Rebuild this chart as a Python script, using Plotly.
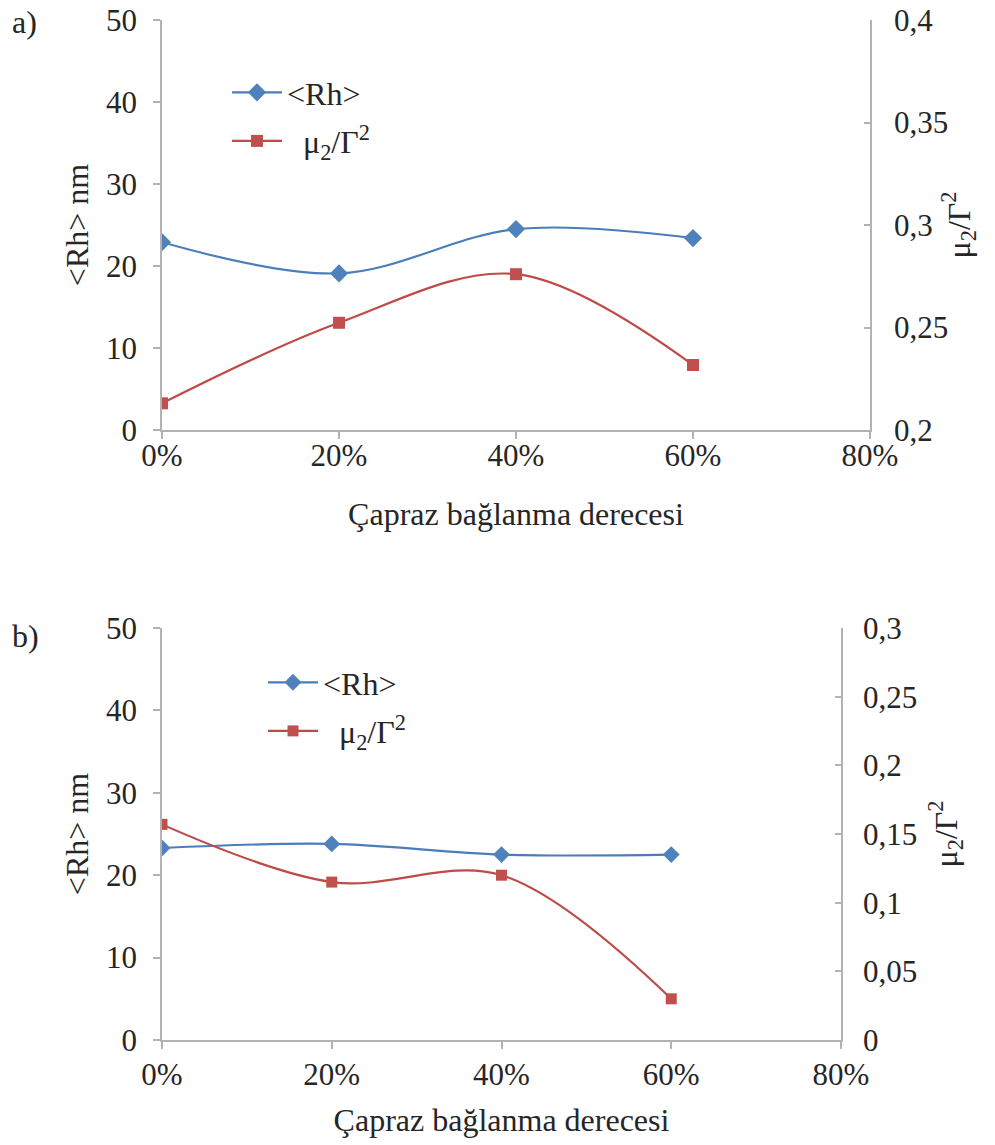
import plotly.graph_objects as go

# ---- data ----
x_vals = [0, 20, 40, 60]
x_tick_vals = [0, 20, 40, 60, 80]
x_tick_text = ["0%", "20%", "40%", "60%", "80%"]

rh_a = [22.9, 19.1, 24.5, 23.4]
mu_a = [0.213, 0.2523, 0.276, 0.2317]

rh_b = [23.3, 23.8, 22.5, 22.5]
mu_b = [0.157, 0.115, 0.12, 0.03]

rh_name = "&lt;Rh&gt;"
mu_name = "&#160;&#160;μ<sub>2</sub>/Γ<sup>2</sup>"
x_title = "Çapraz bağlanma derecesi"
y_title = "&lt;Rh&gt; nm"
y2_title = "μ<sub>2</sub>/Γ<sup>2</sup>"

BLUE_L, BLUE_M = "#4A7EBB", "#4F81BD"
RED_L, RED_M = "#BE4B48", "#C0504D"
AX = "#B3B3B3"
TXT = "#262626"
FONT = "Liberation Serif, Times New Roman, serif"
FS_T = 31   # tick labels
FS = 32     # titles, legend

W, H = 995, 1145
ML, MR, MT, MB = 162, 125, 20, 105
PW = W - ML - MR
PH = H - MT - MB


def px_x(px):
    return (px - ML) / PW


def px_y(py):
    return 1 - (py - MT) / PH


fig = go.Figure()

# panel a
fig.add_trace(go.Scatter(x=x_vals, y=rh_a, name=rh_name, mode="lines+markers",
                         line=dict(color=BLUE_L, width=2.2, shape="spline"),
                         marker=dict(symbol="diamond", size=14, color=BLUE_M),
                         xaxis="x", yaxis="y", legend="legend", legendgroup="a1"))
fig.add_trace(go.Scatter(x=x_vals, y=mu_a, name=mu_name, mode="lines+markers",
                         line=dict(color=RED_L, width=2.2, shape="spline"),
                         marker=dict(symbol="square", size=12, color=RED_M),
                         xaxis="x", yaxis="y2", legend="legend", legendgroup="a2"))
# panel b
fig.add_trace(go.Scatter(x=x_vals, y=rh_b, name=rh_name, mode="lines+markers",
                         line=dict(color=BLUE_L, width=2.2, shape="spline"),
                         marker=dict(symbol="diamond", size=13, color=BLUE_M),
                         xaxis="x2", yaxis="y3", legend="legend2", legendgroup="b1"))
fig.add_trace(go.Scatter(x=x_vals, y=mu_b, name=mu_name, mode="lines+markers",
                         line=dict(color=RED_L, width=2.2, shape="spline"),
                         marker=dict(symbol="square", size=11, color=RED_M),
                         xaxis="x2", yaxis="y4", legend="legend2", legendgroup="b2"))

tickfont = dict(family=FONT, size=FS_T, color=TXT)
titlefont = dict(family=FONT, size=FS, color=TXT)

xa_common = dict(range=[0, 80], tickmode="array", tickvals=x_tick_vals, ticktext=x_tick_text,
                 showgrid=False, zeroline=False, showline=True, linecolor=AX, linewidth=1.8,
                 ticks="outside", ticklen=7, tickcolor=AX, tickwidth=1.5,
                 tickfont=tickfont, automargin=False)
ya_common = dict(showgrid=False, zeroline=False, showline=True, linecolor=AX, linewidth=1.8,
                 ticks="outside", ticklen=7, tickcolor=AX, tickwidth=1.5,
                 tickfont=tickfont, automargin=False)
yr_common = {**ya_common, "ticks": "inside", "ticklen": 6}

ya_top = [px_y(430), px_y(20)]
ya_bot = [px_y(1040), px_y(628)]

legend_common = dict(xanchor="left", yanchor="top", bgcolor="rgba(0,0,0,0)",
                     font=dict(family=FONT, size=FS, color=TXT),
                     tracegroupgap=4, itemwidth=50)

fig.update_layout(
    width=W, height=H,
    margin=dict(l=ML, r=MR, t=MT, b=MB),
    paper_bgcolor="white", plot_bgcolor="white",
    separators=",.",
    font=dict(family=FONT, size=FS, color=TXT),
    xaxis=dict(**xa_common, domain=[0, 1], anchor="y", ticklabelstandoff=-10,
               title=dict(text=x_title, font=titlefont, standoff=31)),
    xaxis2=dict(**xa_common, domain=[0, px_x(841)], anchor="y3", ticklabelstandoff=-1,
                title=dict(text=x_title, font=titlefont, standoff=18)),
    yaxis=dict(**ya_common, domain=ya_top, range=[0, 50], dtick=10, anchor="x",
               ticklabelstandoff=10,
               title=dict(text=y_title, font=titlefont, standoff=8)),
    yaxis2=dict(**yr_common, overlaying="y", side="right", anchor="x",
                range=[0.2, 0.4], dtick=0.05, ticklabelstandoff=16,
                title=dict(text=y2_title, font=titlefont, standoff=0)),
    yaxis3=dict(**ya_common, domain=ya_bot, range=[0, 50], dtick=10, anchor="x2",
                ticklabelstandoff=10,
                title=dict(text=y_title, font=titlefont, standoff=8)),
    yaxis4=dict(**yr_common, overlaying="y3", side="right", anchor="x2",
                range=[0, 0.3], dtick=0.05, ticklabelstandoff=14,
                title=dict(text=y2_title, font=titlefont, standoff=18)),
    legend=dict(**legend_common, x=px_x(227), y=px_y(65)),
    legend2=dict(**legend_common, x=px_x(263), y=px_y(655)),
    showlegend=True,
    annotations=[
        dict(text="a)", x=px_x(10), y=px_y(22), xref="paper", yref="paper",
             xanchor="left", yanchor="middle", showarrow=False,
             font=dict(family=FONT, size=FS, color=TXT)),
        dict(text="b)", x=px_x(10), y=px_y(636), xref="paper", yref="paper",
             xanchor="left", yanchor="middle", showarrow=False,
             font=dict(family=FONT, size=FS, color=TXT)),
    ],
)

fig.write_html("out.html")
